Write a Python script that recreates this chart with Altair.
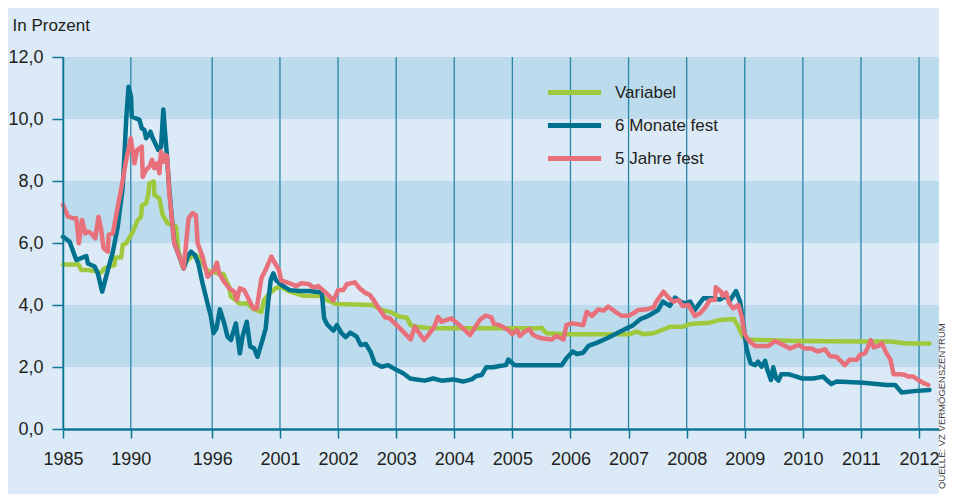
import altair as alt
import pandas as pd

# ---------------- data ----------------
series_names = ["Variabel", "6 Monate fest", "5 Jahre fest"]
series_colors = ["#a0c83c", "#00728f", "#e8707a"]

var_year = [1985.0, 1986.15, 1986.35, 1986.84, 1987.33, 1987.77, 1988.06, 1988.43, 1988.80, 1988.85,
            1989.29, 1989.41, 1989.66, 1990.15, 1990.51, 1990.76, 1990.81, 1991.13, 1991.30, 1991.37,
            1991.69, 1991.74, 1992.11, 1992.35, 1992.72, 1993.09, 1993.33, 1993.50, 1993.82, 1994.19,
            1994.48, 1994.80, 1995.17, 1995.42, 1995.71, 1996.03, 1996.40, 1996.84, 1997.01, 1997.25,
            1997.38, 1997.75, 1997.99, 1998.60, 1999.09, 1999.63, 1999.83, 2000.20, 2000.69, 2001.02,
            2001.17, 2001.40, 2001.72, 2001.80, 2001.97, 2002.60, 2002.75, 2002.89, 2003.06, 2003.18,
            2003.25, 2003.35, 2003.58, 2005.47, 2005.50, 2005.59, 2005.93, 2007.02, 2007.14, 2007.25,
            2007.43, 2007.60, 2007.71, 2007.94, 2008.06, 2008.40, 2008.57, 2008.81, 2008.89, 2008.97,
            2009.03, 2009.32, 2009.89, 2011.04, 2011.50, 2011.79, 2012.18]
var_val = [5.31, 5.31, 5.13, 5.13, 5.10, 5.04, 5.18, 5.24, 5.29, 5.53,
           5.53, 5.94, 5.99, 6.37, 6.74, 6.85, 7.20, 7.28, 7.60, 7.92,
           7.98, 7.55, 7.44, 6.90, 6.63, 6.58, 6.53, 5.77, 5.24, 5.45,
           5.56, 5.61, 5.50, 5.24, 5.08, 5.08, 5.02, 5.00, 4.81, 4.59,
           4.27, 4.16, 4.05, 4.05, 3.86, 3.78, 4.16, 4.36, 4.54, 4.59,
           4.43, 4.30, 4.29, 4.16, 4.03, 4.00, 3.84, 3.78, 3.62, 3.60,
           3.35, 3.30, 3.25, 3.25, 3.27, 3.09, 3.06, 3.06, 3.14, 3.06,
           3.09, 3.21, 3.30, 3.30, 3.39, 3.43, 3.52, 3.55, 3.30, 2.98,
           2.89, 2.87, 2.84, 2.82, 2.82, 2.76, 2.76]

m6_year = [1985.0, 1985.49, 1985.98, 1986.72, 1986.84, 1987.33, 1987.57, 1987.89, 1988.31, 1988.68,
           1989.04, 1989.41, 1989.66, 1989.83, 1990.02, 1990.07, 1990.64, 1990.81, 1991.0, 1991.13,
           1991.30, 1991.45, 1991.62, 1991.86, 1992.03, 1992.23, 1992.40, 1992.55, 1992.67, 1992.84,
           1992.97, 1993.21, 1993.58, 1993.90, 1994.19, 1994.44, 1994.73, 1994.98, 1995.29, 1995.66,
           1995.91, 1996.10, 1996.32, 1996.57, 1996.89, 1997.13, 1997.38, 1997.75, 1998.04, 1998.24,
           1998.55, 1998.80, 1999.09, 1999.34, 1999.71, 1999.95, 2000.12, 2000.32, 2000.51, 2000.69,
           2001.02, 2001.17, 2001.34, 2001.51, 2001.72, 2001.76, 2001.81, 2001.92, 2001.98, 2002.06,
           2002.13, 2002.21, 2002.32, 2002.39, 2002.48, 2002.56, 2002.63, 2002.75, 2002.86, 2003.01,
           2003.12, 2003.24, 2003.35, 2003.49, 2003.64, 2003.78, 2003.98, 2004.15, 2004.30, 2004.38,
           2004.47, 2004.55, 2004.67, 2004.78, 2004.89, 2004.93, 2005.04, 2005.19, 2005.47, 2005.85,
           2005.93, 2006.04, 2006.11, 2006.22, 2006.31, 2006.45, 2006.62, 2006.80, 2006.97, 2007.08,
           2007.20, 2007.34, 2007.51, 2007.59, 2007.71, 2007.80, 2007.89, 2007.97, 2008.06, 2008.14,
           2008.29, 2008.43, 2008.57, 2008.66, 2008.75, 2008.85, 2008.92, 2008.99, 2009.03, 2009.10,
           2009.18, 2009.23, 2009.29, 2009.35, 2009.39, 2009.45, 2009.49, 2009.54, 2009.58, 2009.63,
           2009.75, 2009.89, 2009.98, 2010.18, 2010.35, 2010.41, 2010.49, 2010.58, 2011.04, 2011.27,
           2011.44, 2011.59, 2011.70, 2011.96, 2012.18]
m6_val = [6.20, 6.04, 5.45, 5.58, 5.34, 5.24, 5.02, 4.43, 5.13, 5.72,
          6.53, 7.82, 9.97, 11.04, 10.72, 10.08, 9.97, 9.70, 9.65, 9.38,
          9.48, 9.59, 9.38, 9.16, 9.00, 9.10, 10.31, 9.43, 8.79, 7.71,
          7.07, 5.99, 5.56, 5.18, 5.56, 5.72, 5.61, 5.34, 4.70, 4.05,
          3.62, 3.09, 3.25, 3.86, 3.41, 2.98, 2.87, 3.41, 2.44, 2.98,
          3.46, 2.66, 2.60, 2.33, 2.87, 3.25, 4.05, 4.81, 5.02, 4.81,
          4.65, 4.48, 4.45, 4.45, 4.40, 3.57, 3.38, 3.17, 3.35, 3.09,
          2.96, 3.11, 2.98, 2.71, 2.74, 2.49, 2.12, 2.01, 2.06, 1.90,
          1.80, 1.63, 1.60, 1.56, 1.63, 1.56, 1.60, 1.53, 1.60, 1.71,
          1.74, 1.99, 1.99, 2.03, 2.06, 2.24, 2.06, 2.06, 2.06, 2.06,
          2.28, 2.50, 2.42, 2.46, 2.68, 2.78, 2.92, 3.09, 3.25, 3.35,
          3.54, 3.65, 3.84, 4.11, 3.97, 4.24, 4.11, 4.05, 4.11, 3.84,
          4.22, 4.22, 4.18, 4.27, 4.16, 4.45, 4.11, 3.19, 2.60, 2.12,
          2.06, 2.17, 2.01, 2.20, 1.90, 1.58, 1.99, 1.63, 1.56, 1.77,
          1.77, 1.69, 1.63, 1.63, 1.69, 1.58, 1.45, 1.53, 1.49, 1.45,
          1.42, 1.42, 1.18, 1.23, 1.26]

j5_year = [1985.0, 1985.37, 1985.74, 1985.98, 1986.17, 1986.40, 1986.64, 1986.84, 1987.08, 1987.38,
           1987.62, 1987.82, 1987.99, 1988.31, 1988.36, 1988.68, 1989.04, 1989.41, 1989.66, 1990.0,
           1990.27, 1990.47, 1990.81, 1990.88, 1991.13, 1991.37, 1991.57, 1991.74, 1991.94, 1992.11,
           1992.23, 1992.40, 1992.55, 1992.67, 1992.84, 1993.01, 1993.21, 1993.58, 1993.90, 1994.26,
           1994.56, 1994.80, 1994.93, 1995.29, 1995.66, 1995.91, 1996.15, 1996.35, 1996.52, 1996.89,
           1997.25, 1997.62, 1997.82, 1998.04, 1998.36, 1998.72, 1999.04, 1999.29, 1999.63, 1999.99,
           2000.37, 2000.64, 2000.93, 2001.02, 2001.17, 2001.28, 2001.37, 2001.49, 2001.57, 2001.66,
           2001.77, 2001.86, 2001.92, 2002.00, 2002.09, 2002.15, 2002.29, 2002.37, 2002.46, 2002.55,
           2002.63, 2002.72, 2002.81, 2002.89, 2003.01, 2003.12, 2003.25, 2003.32, 2003.48, 2003.55,
           2003.65, 2003.72, 2003.78, 2003.87, 2003.95, 2004.04, 2004.15, 2004.27, 2004.35, 2004.44,
           2004.54, 2004.64, 2004.68, 2004.78, 2004.93, 2005.00, 2005.08, 2005.13, 2005.21, 2005.29,
           2005.36, 2005.44, 2005.53, 2005.68, 2005.76, 2005.88, 2005.93, 2006.02, 2006.22, 2006.28,
           2006.37, 2006.48, 2006.57, 2006.65, 2006.77, 2006.88, 2007.00, 2007.08, 2007.17, 2007.31,
           2007.43, 2007.48, 2007.60, 2007.70, 2007.77, 2007.86, 2007.93, 2008.03, 2008.14, 2008.23,
           2008.32, 2008.40, 2008.49, 2008.50, 2008.59, 2008.62, 2008.68, 2008.73, 2008.80, 2008.89,
           2008.95, 2008.99, 2009.06, 2009.18, 2009.41, 2009.52, 2009.66, 2009.78, 2009.92, 2010.04,
           2010.15, 2010.25, 2010.38, 2010.47, 2010.58, 2010.65, 2010.72, 2010.80, 2010.93, 2010.98,
           2011.07, 2011.11, 2011.17, 2011.22, 2011.30, 2011.36, 2011.44, 2011.51, 2011.56, 2011.67,
           2011.76, 2011.81, 2011.90, 2011.99, 2012.07, 2012.16]
j5_val = [7.23, 6.85, 6.80, 6.80, 5.99, 6.74, 6.31, 6.37, 6.31, 6.15,
          6.85, 6.42, 5.83, 5.72, 6.26, 6.31, 7.17, 8.03, 8.68, 9.38,
          8.57, 9.00, 9.11, 8.14, 8.36, 8.46, 8.68, 8.41, 8.57, 8.25,
          8.95, 8.62, 8.84, 8.81, 7.60, 6.85, 5.99, 5.56, 5.18, 6.80,
          6.96, 6.90, 5.99, 5.56, 4.91, 5.02, 5.13, 5.37, 5.02, 4.75,
          4.54, 4.43, 4.16, 4.54, 4.48, 4.16, 3.89, 3.89, 4.86, 5.18,
          5.56, 5.34, 5.13, 4.79, 4.70, 4.61, 4.70, 4.68, 4.57, 4.61,
          4.43, 4.27, 4.14, 4.48, 4.48, 4.67, 4.73, 4.54, 4.40, 4.32,
          4.11, 3.84, 3.60, 3.57, 3.35, 3.14, 2.89, 3.30, 2.87, 3.03,
          3.28, 3.62, 3.46, 3.52, 3.57, 3.43, 3.25, 3.03, 3.25, 3.52,
          3.66, 3.60, 3.39, 3.35, 3.19, 3.06, 3.19, 3.00, 3.14, 3.22,
          3.03, 2.96, 2.92, 2.89, 3.00, 2.89, 3.35, 3.41, 3.35, 3.78,
          3.65, 3.86, 3.82, 3.95, 3.78, 3.65, 3.65, 3.73, 3.84, 3.86,
          3.92, 4.11, 4.43, 4.22, 4.11, 4.16, 3.97, 4.00, 3.65, 3.73,
          3.92, 4.16, 4.16, 4.57, 4.43, 4.29, 4.40, 4.07, 3.89, 4.00,
          3.62, 3.09, 2.87, 2.68, 2.68, 2.84, 2.71, 2.60, 2.71, 2.60,
          2.60, 2.50, 2.57, 2.35, 2.33, 2.20, 2.06, 2.23, 2.23, 2.39,
          2.44, 2.60, 2.87, 2.63, 2.68, 2.76, 2.44, 2.23, 1.77, 1.77,
          1.74, 1.69, 1.69, 1.58, 1.49, 1.42]

tick_years = [1985, 1990, 1996, 2001, 2002, 2003, 2004, 2005, 2006, 2007, 2008, 2009, 2010, 2011, 2012]
y_ticks = [0, 2, 4, 6, 8, 10, 12]
band_lo = [2, 6, 10]
band_hi = [4, 8, 12]

y_title = "In Prozent"
source_text = "QUELLE: VZ VERMÖGENSZENTRUM"

# ---------------- axis break (1985-2001 compressed) ----------------
BREAK = 2001
PX_PER_YEAR = 58.1
EARLY = 13.56 / PX_PER_YEAR          # relative width of a year before 2001


def pos(y):
    return y if y >= BREAK else BREAK - (BREAK - y) * EARLY


pos_expr = f"datum.year >= {BREAK} ? datum.year : {BREAK} - ({BREAK} - datum.year) * {EARLY}"
label_expr = (f"format(round(datum.value >= {BREAK} ? datum.value : "
              f"{BREAK} - ({BREAK} - datum.value) / {EARLY}), 'd')")

rows = []
for name, ys, vs in [(series_names[0], var_year, var_val),
                     (series_names[1], m6_year, m6_val),
                     (series_names[2], j5_year, j5_val)]:
    for y, v in zip(ys, vs):
        rows.append({"series": name, "year": y, "value": v})
df = pd.DataFrame(rows)

band_df = pd.DataFrame({"lo": band_lo, "hi": band_hi})
tick_df = pd.DataFrame({"year": tick_years})

FONT = "Liberation Sans, Arial, Helvetica, sans-serif"
TEAL = "#0f7595"
GRID = "#2a86a6"
TXT = "#231f20"
LIGHT = "#dbeaf6"
DARK = "#bcdcee"

W, H = 876, 372

xscale = alt.Scale(domain=[pos(1985), pos(1985) + W / PX_PER_YEAR], nice=False, zero=False)
yscale = alt.Scale(domain=[0, 12], nice=False)

xaxis = alt.Axis(values=[pos(t) for t in tick_years], labelExpr=label_expr, grid=False,
                 domainColor=TEAL, domainWidth=2.5, tickColor=TEAL, tickWidth=1.5, tickSize=9,
                 labelFont=FONT, labelFontSize=18, labelColor=TXT, labelPadding=12,
                 labelFlush=False, labelOverlap=False, title=None, zindex=1)
yaxis = alt.Axis(values=y_ticks, labelExpr="replace(format(datum.value, '.1f'), '.', ',')",
                 grid=False, domainColor=TEAL, domainWidth=1.5, tickColor=TEAL, tickWidth=1.5,
                 tickSize=11, labelFont=FONT, labelFontSize=18, labelColor=TXT, labelPadding=9,
                 title=y_title, titleAngle=0, titleAlign="left", titleBaseline="alphabetic",
                 titleX=-51, titleY=-27, titleFont=FONT, titleFontSize=17, titleFontWeight="normal",
                 titleColor=TXT, zindex=1)

bands = alt.Chart(band_df).mark_rect(color=DARK).encode(
    y=alt.Y("lo:Q", scale=yscale, axis=yaxis), y2="hi:Q")

rules = alt.Chart(tick_df).transform_calculate(pos=pos_expr).mark_rule(
    color=GRID, strokeWidth=1.3).encode(x=alt.X("pos:Q", scale=xscale, axis=xaxis))

lines = alt.Chart(df).transform_calculate(pos=pos_expr).mark_line(
    strokeWidth=4.5, strokeJoin="round", strokeCap="round").encode(
    x=alt.X("pos:Q", scale=xscale, axis=xaxis),
    y=alt.Y("value:Q", scale=yscale, axis=yaxis),
    color=alt.Color("series:N", sort=series_names,
                    scale=alt.Scale(domain=series_names, range=series_colors),
                    legend=alt.Legend(orient="none", legendX=489, legendY=13, title=None,
                                      symbolType="M-1.33,0H1.33", symbolSize=1600,
                                      symbolStrokeWidth=5,
                                      labelFont=FONT, labelFontSize=17, labelColor=TXT,
                                      labelOffset=18, rowPadding=0)),
)

strip = alt.Chart(pd.DataFrame({"a": [0]})).mark_rect(color="white", clip=False).encode(
    x=alt.value(W), x2=alt.value(W + 10), y=alt.value(-60), y2=alt.value(H + 70))

source = alt.Chart(pd.DataFrame({"t": [source_text]})).mark_text(
    angle=270, align="left", baseline="middle", font=FONT, fontSize=9.5, color="#444444").encode(
    text="t:N", x=alt.value(W + 2.5), y=alt.value(H + 60))

chart = alt.layer(bands, rules, lines, strip, source).properties(
    width=W, height=H,
    padding={"left": 55, "top": 49, "right": 7, "bottom": 65},
    autosize=alt.AutoSizeParams(type="none"),
    background=LIGHT,
).configure_view(fill=LIGHT, stroke=None)

chart.save("out.html", embed_options={"renderer": "svg", "actions": False})
